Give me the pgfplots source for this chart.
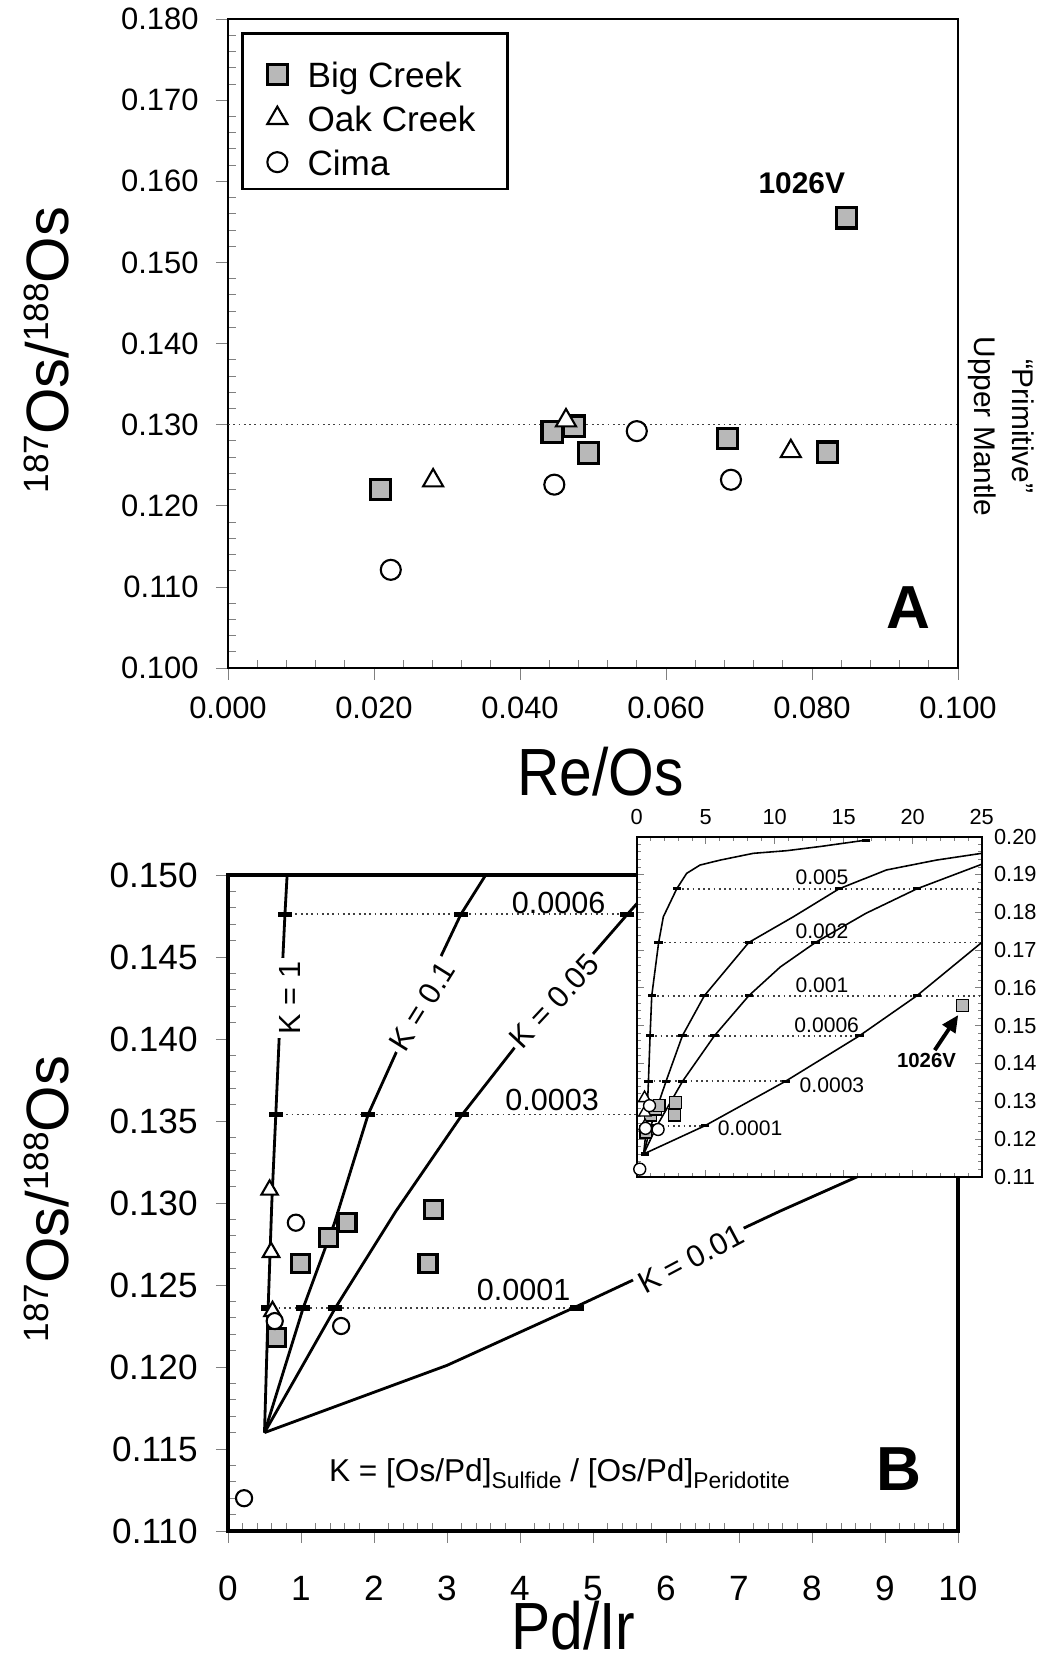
\documentclass[border=0pt]{standalone}
\usepackage{fontspec}
\setmainfont{Liberation Sans}
\newfontfamily\narrowfont[FakeStretch=0.88]{Liberation Sans}
\usepackage{pgfplots}
\pgfplotsset{compat=1.18}
\usetikzlibrary{arrows.meta}

\newcommand{\sups}[1]{\raisebox{5.6pt}{\fontsize{10}{10}\selectfont #1}}
\newcommand{\subs}[1]{\raisebox{-2.2pt}{\fontsize{6.5}{7}\selectfont #1}}

\tikzset{lbl/.style={font=\fontsize{8.7}{10}\selectfont, inner sep=1pt}}
\pgfplotsset{
  bc/.style 2 args={only marks, mark=square*, mark size=#1, mark options={draw=black, fill=black!28, line width=#2}},
  oc/.style 2 args={only marks, mark=triangle*, mark size=#1, mark options={draw=black, fill=white, line width=#2}},
  ci/.style 2 args={only marks, mark=*, mark size=#1, mark options={draw=black, fill=white, line width=#2}},
  bar/.style={only marks, mark=-, mark size=#1, forget plot},
  dotline/.style={densely dotted, line width=0.5pt, black!75, forget plot},
  curve/.style={line width=#1, black, forget plot},
  every minor x tick/.append style={yshift=0.08cm},
  every minor y tick/.append style={xshift=0.08cm},
}

\begin{document}
\begin{tikzpicture}
\path[use as bounding box] (0,0) rectangle (10.44,16.62);

% ---------------- panel A ----------------
\begin{axis}[
  at={(2.28cm,9.94cm)}, anchor=south west,
  width=7.30cm, height=6.49cm, scale only axis,
  xmin=0, xmax=0.1, ymin=0.1, ymax=0.18,
  xtick={0,0.02,0.04,0.06,0.08,0.1},
  ytick={0.1,0.11,0.12,0.13,0.14,0.15,0.16,0.17,0.18},
  minor x tick num=4, minor y tick num=4,
  xtick pos=bottom, ytick pos=left,
  tick align=outside, major tick length=0.12cm, minor tick length=0.08cm,
  scaled ticks=false,
  /pgf/number format/assume math mode=true,
  tick label style={font=\fontsize{8.8}{10}\selectfont},
  xticklabel style={/pgf/number format/.cd, fixed, fixed zerofill, precision=3, /tikz/.cd, yshift=-0.04cm},
  yticklabel style={/pgf/number format/.cd, fixed, fixed zerofill, precision=3, /tikz/.cd, xshift=-0.05cm},
  axis line style={line width=0.6pt},
  clip=false,
  xlabel={Re/Os},
  xlabel style={font=\narrowfont\fontsize{19}{22}\selectfont, at={(axis description cs:0.51,-0.16)}, anchor=center},
  ylabel={\sups{187}Os/\sups{188}Os},
  ylabel style={font=\fontsize{17}{20}\selectfont, at={(axis description cs:-0.249,0.49)}, anchor=center},
  legend style={at={(0.018,0.98)}, anchor=north west, draw=black, line width=0.8pt,
    font=\fontsize{10}{12}\selectfont, inner xsep=7pt, inner ysep=1.9pt, row sep=-3pt,
    column sep=0.13cm, nodes={text height=11.5pt, text depth=0pt}},
  legend image post style={yshift=-0.07cm},
  legend cell align=left,
]
\addplot[dotline] coordinates {(0,0.13) (0.1,0.13)};
\addplot[bc={2.9pt}{0.9pt}] coordinates {
  (0.0209,0.1220) (0.0444,0.1291) (0.0474,0.1298) (0.0494,0.1265)
  (0.0684,0.1283) (0.0821,0.1266) (0.0847,0.1555)
};
\addlegendentry{Big Creek}
\addplot[oc={3.3pt}{0.6pt}] coordinates {
  (0.0281,0.1231) (0.0463,0.1305) (0.0771,0.1267)
};
\addlegendentry{Oak Creek}
\addplot[ci={2.85pt}{0.6pt}] coordinates {
  (0.0223,0.1121) (0.0447,0.1226) (0.0560,0.1292) (0.0689,0.1232)
};
\addlegendentry{Cima}
\node[font=\bfseries\fontsize{8.5}{10}\selectfont] at (axis cs:0.0786,0.1597) {1026V};
\node[font=\bfseries\fontsize{17.3}{20}\selectfont] at (axis cs:0.0932,0.1075) {A};
\node[rotate=-90, align=center, font=\fontsize{8.5}{10.8}\selectfont] at (axis cs:0.1059,0.1298) {“Primitive”\\Upper Mantle};
\end{axis}

% ---------------- panel B ----------------
\begin{axis}[
  at={(2.28cm,1.31cm)}, anchor=south west,
  width=7.30cm, height=6.56cm, scale only axis,
  xmin=0, xmax=10, ymin=0.11, ymax=0.15,
  xtick={0,1,2,3,4,5,6,7,8,9,10},
  ytick={0.11,0.115,0.12,0.125,0.13,0.135,0.14,0.145,0.15},
  minor x tick num=4, minor y tick num=4,
  xtick pos=bottom, ytick pos=left,
  tick align=outside, major tick length=0.12cm, minor tick length=0.08cm,
  scaled ticks=false,
  /pgf/number format/assume math mode=true,
  tick label style={font=\fontsize{10}{12}\selectfont},
  xticklabel style={yshift=-0.21cm},
  yticklabel style={/pgf/number format/.cd, fixed, fixed zerofill, precision=3, /tikz/.cd, xshift=-0.06cm},
  axis line style={line width=0.9pt},
  xlabel={Pd/Ir},
  xlabel style={font=\narrowfont\fontsize{19}{22}\selectfont, at={(axis description cs:0.473,-0.145)}, anchor=center},
  ylabel={\sups{187}Os/\sups{188}Os},
  ylabel style={font=\fontsize{17}{20}\selectfont, at={(axis description cs:-0.249,0.506)}, anchor=center},
]
\addplot[dotline] coordinates {(0.55,0.1236) (4.78,0.1236)};
\addplot[dotline] coordinates {(0.655,0.1354) (10,0.1354)};
\addplot[dotline] coordinates {(0.78,0.1476) (5.47,0.1476)};
% K = 1
\addplot[curve=0.8pt] coordinates {(0.5,0.116) (0.55,0.1236) (0.60,0.1300) (0.655,0.1354) (0.72,0.1420) (0.78,0.1476) (0.81,0.150)};
% K = 0.1
\addplot[curve=0.8pt] coordinates {(0.5,0.116) (1.03,0.1236) (1.46,0.1288) (1.92,0.1354) (2.55,0.1416) (3.19,0.1476) (3.53,0.1500)};
% K = 0.05
\addplot[curve=0.8pt] coordinates {(0.5,0.116) (1.47,0.1236) (2.3,0.1295) (3.21,0.1354) (4.3,0.1416) (5.47,0.1476) (5.95,0.1500)};
% K = 0.01
\addplot[curve=0.8pt] coordinates {(0.5,0.116) (3.0,0.1201) (4.78,0.1237) (7.56,0.1295) (8.72,0.1318) (10,0.1345)};
\addplot[bar=2pt, mark options={line width=1.5pt}] coordinates {
  (0.55,0.1236) (1.03,0.1236) (1.47,0.1236) (4.78,0.1236)
  (0.655,0.1354) (1.92,0.1354) (3.21,0.1354)
  (0.78,0.1476) (3.19,0.1476) (5.47,0.1476)
};
\node[lbl] at (axis cs:4.53,0.1483) {0.0006};
\node[lbl] at (axis cs:4.44,0.1363) {0.0003};
\node[lbl] at (axis cs:4.05,0.1247) {0.0001};
\node[lbl, rotate=90, fill=white] at (axis cs:0.85,0.1425) {K = 1};
\node[lbl, rotate=58, fill=white] at (axis cs:2.66,0.1420) {K = 0.1};
\node[lbl, rotate=47, fill=white] at (axis cs:4.47,0.1423) {K = 0.05};
\node[lbl, rotate=28, fill=white] at (axis cs:6.34,0.1266) {K = 0.01};
\node[font=\fontsize{9}{10}\selectfont] at (axis cs:4.54,0.1135) {K = [Os/Pd]\subs{Sulfide} / [Os/Pd]\subs{Peridotite}};
\node[font=\bfseries\fontsize{17.7}{20}\selectfont] at (axis cs:9.19,0.1138) {B};
\addplot[bc={2.55pt}{0.9pt}] coordinates {
  (0.66,0.1218) (0.99,0.1263) (1.38,0.1279) (1.63,0.1288) (2.82,0.1296) (2.74,0.1263)
};
\addplot[oc={2.7pt}{0.6pt}] coordinates {(0.57,0.1308) (0.59,0.1270) (0.61,0.1234)};
\addplot[ci={2.3pt}{0.6pt}] coordinates {(0.22,0.1120) (0.64,0.1228) (1.55,0.1225) (0.93,0.1288)};
\end{axis}

% ---------------- inset ----------------
\begin{axis}[
  at={(6.367cm,4.853cm)}, anchor=south west,
  width=3.45cm, height=3.40cm, scale only axis,
  xmin=0, xmax=25, ymin=0.11, ymax=0.20,
  xtick={0,5,10,15,20,25},
  ytick={0.11,0.12,0.13,0.14,0.15,0.16,0.17,0.18,0.19,0.20},
  minor x tick num=4, minor y tick num=4,
  xtick pos=both, ytick pos=both,
  xticklabel pos=right, yticklabel pos=right,
  tick align=inside, major tick length=0.07cm, minor tick length=0.04cm,
  every minor x tick/.style={},
  every minor y tick/.style={},
  scaled ticks=false,
  /pgf/number format/assume math mode=true,
  tick label style={font=\fontsize{6.2}{7}\selectfont},
  yticklabel style={/pgf/number format/.cd, fixed, fixed zerofill, precision=2},
  axis background/.style={fill=white},
  axis line style={line width=0.5pt},
]
\addplot[dotline] coordinates {(0.72,0.1235) (4.95,0.1235)};
\addplot[dotline] coordinates {(0.85,0.1353) (10.8,0.1353)};
\addplot[dotline] coordinates {(0.97,0.1473) (16.14,0.1473)};
\addplot[dotline] coordinates {(1.09,0.1579) (25,0.1579)};
\addplot[dotline] coordinates {(1.59,0.172) (25,0.172)};
\addplot[dotline] coordinates {(2.9,0.1862) (25,0.1862)};
\addplot[curve=0.45pt] coordinates {(0.5,0.116) (0.72,0.1235) (0.85,0.1353) (0.97,0.1473) (1.09,0.1579) (1.59,0.172) (1.93,0.1788) (2.9,0.1862) (3.62,0.1903) (4.59,0.1925) (6.04,0.1938) (8.45,0.1956) (10.87,0.1963) (13.29,0.1974) (16.62,0.1991)};
\addplot[curve=0.45pt] coordinates {(0.5,0.116) (1.03,0.1235) (2.13,0.1353) (3.31,0.1473) (4.9,0.1579) (8.12,0.172) (11.35,0.1788) (14.66,0.1862) (18.1,0.1912) (21.7,0.1938) (25,0.1956)};
\addplot[curve=0.45pt] coordinates {(0.5,0.116) (1.47,0.1235) (3.33,0.1353) (5.63,0.1473) (8.12,0.1579) (10.4,0.1655) (12.95,0.172) (16.6,0.1797) (20.3,0.1862) (25,0.1927)};
\addplot[curve=0.45pt] coordinates {(0.5,0.116) (4.95,0.1235) (10.8,0.1353) (16.14,0.1473) (20.3,0.1579) (25,0.172)};
\addplot[bar=1.2pt, mark options={line width=0.9pt}] coordinates {
  (0.6,0.116)
  (0.72,0.1235) (1.03,0.1235) (1.47,0.1235) (4.95,0.1235)
  (0.85,0.1353) (2.13,0.1353) (3.33,0.1353) (10.8,0.1353)
  (0.97,0.1473) (3.31,0.1473) (5.63,0.1473) (16.14,0.1473)
  (1.09,0.1579) (4.9,0.1579) (8.12,0.1579) (20.3,0.1579)
  (1.59,0.172) (8.12,0.172) (12.95,0.172)
  (2.9,0.1862) (14.66,0.1862) (20.3,0.1862)
  (16.62,0.1991)
};
\node[font=\fontsize{6}{7}\selectfont] at (axis cs:13.43,0.1893) {0.005};
\node[font=\fontsize{6}{7}\selectfont] at (axis cs:13.43,0.1749) {0.002};
\node[font=\fontsize{6}{7}\selectfont] at (axis cs:13.43,0.1607) {0.001};
\node[font=\fontsize{6}{7}\selectfont] at (axis cs:13.77,0.1501) {0.0006};
\node[font=\fontsize{6}{7}\selectfont] at (axis cs:14.15,0.1343) {0.0003};
\node[font=\fontsize{6}{7}\selectfont] at (axis cs:8.21,0.1228) {0.0001};
\node[font=\bfseries\fontsize{5.8}{7}\selectfont] at (axis cs:21.0,0.1407) {1026V};
\draw[line width=1.1pt, -{Triangle[length=0.17cm,width=0.15cm]}] (axis cs:21.6,0.1435) -- (axis cs:23.3,0.1528);
\addplot[bc={1.7pt}{0.4pt}] coordinates {
  (0.66,0.1218) (0.99,0.1263) (1.38,0.1279) (1.63,0.1288) (2.82,0.1296) (2.74,0.1263) (23.6,0.1553)
};
\addplot[oc={2pt}{0.4pt}] coordinates {(0.57,0.1308) (0.59,0.1270) (0.61,0.1234)};
\addplot[ci={1.7pt}{0.4pt}] coordinates {(0.22,0.1120) (0.64,0.1228) (1.55,0.1225) (0.93,0.1288)};
\end{axis}
\end{tikzpicture}
\end{document}
